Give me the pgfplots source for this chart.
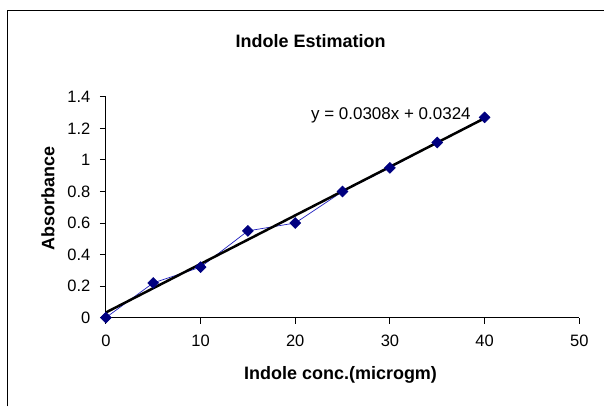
\documentclass[border=0pt]{standalone}
\usepackage{pgfplots}
\pgfplotsset{compat=1.18}
\usepackage{fontspec}
\setmainfont{Liberation Sans}
\definecolor{navy}{HTML}{000080}
\definecolor{lblue}{HTML}{2020C0}
\begin{document}
\begin{tikzpicture}[x=1pt,y=1pt]
\path[fill=white] (0,0) rectangle (605,407);
\draw[line width=1.5pt] (7.5,0) -- (7.5,396.5) -- (605,396.5);
\begin{axis}[
  at={(106pt,89pt)}, anchor=origin,
  scale only axis, width=474pt, height=221pt,
  xmin=0, xmax=50, ymin=0, ymax=1.4,
  xtick={0,10,...,50}, ytick={0,0.2,...,1.4},
  axis x line*=bottom, axis y line*=left,
  axis line style={line width=1.2pt, -},
  tick style={black, line width=1pt},
  tick align=outside, major tick length=6pt,
  /pgf/number format/assume math mode=true,
  /pgf/number format/fixed,
  ticklabel style={font=\fontsize{16.5}{18}\selectfont},
  xticklabel style={yshift=-8pt},
  yticklabel style={xshift=-6pt},
  yticklabels={0,0.2,0.4,0.6,0.8,1,1.2,1.4},
  clip=false,
]
\addplot[lblue, line width=0.7pt, mark=square*, mark size=3.8pt, mark options={navy, fill=navy, rotate=45}]
  coordinates {(0,0) (5,0.22) (10,0.32) (15,0.55) (20,0.6) (25,0.8) (30,0.95) (35,1.11) (40,1.27)};
\addplot[black, line width=2.5pt] coordinates {(0,0.0324) (40,1.2644)};
\node[anchor=east, font=\fontsize{17}{19}\selectfont] at (axis cs:38.9,1.285) {y = 0.0308x + 0.0324};
\end{axis}
\node[font=\bfseries\fontsize{18}{20}\selectfont] at (311,365.5) {Indole Estimation};
\node[font=\bfseries\fontsize{18}{20}\selectfont] at (341,32) {Indole conc.(microgm)};
\node[font=\bfseries\fontsize{18}{20}\selectfont, rotate=90] at (48,208) {Absorbance};
\end{tikzpicture}
\end{document}
